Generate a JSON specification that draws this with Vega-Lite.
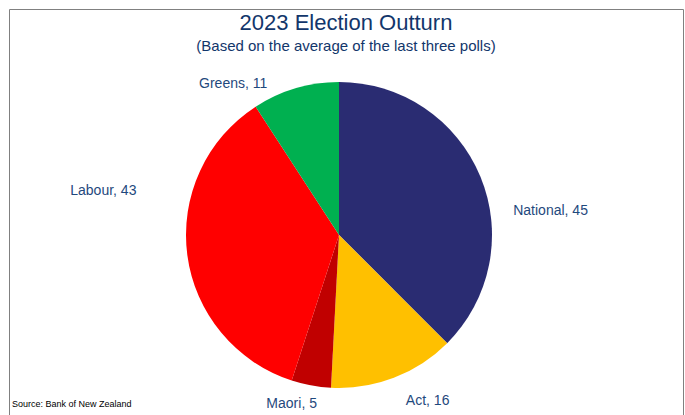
{
  "$schema": "https://vega.github.io/schema/vega-lite/v6.json",
  "width": 685,
  "height": 415,
  "autosize": {"type": "fit", "contains": "padding"},
  "padding": {"left": 9, "top": 9, "right": 2, "bottom": -2},
  "background": "white",
  "view": {"stroke": "#808080", "strokeWidth": 1, "fill": "white"},
  "config": {"font": "Liberation Sans"},
  "title": {
    "text": "2023 Election Outturn",
    "subtitle": "(Based on the average of the last three polls)",
    "anchor": "middle",
    "frame": "group",
    "offset": -46,
    "fontSize": 22,
    "fontWeight": "normal",
    "color": "#12366B",
    "font": "Liberation Sans",
    "subtitleFont": "Liberation Sans",
    "subtitleFontSize": 15,
    "subtitleColor": "#12366B",
    "subtitlePadding": 4
  },
  "data": {
    "values": [
      {"party": "National", "seats": 45, "idx": 1, "label": "National, 45"},
      {"party": "Act", "seats": 16, "idx": 2, "label": "Act, 16"},
      {"party": "Maori", "seats": 5, "idx": 3, "label": "Maori, 5"},
      {"party": "Labour", "seats": 43, "idx": 4, "label": "Labour, 43"},
      {"party": "Greens", "seats": 11, "idx": 5, "label": "Greens, 11"}
    ]
  },
  "layer": [
    {
      "mark": {"type": "arc", "outerRadius": 153, "x": {"expr": "width/2 - 7"}, "y": {"expr": "height/2 + 22"}},
      "encoding": {
        "theta": {"field": "seats", "type": "quantitative", "stack": true},
        "order": {"field": "idx", "type": "quantitative"},
        "color": {
          "field": "party",
          "type": "nominal",
          "scale": {
            "domain": ["National", "Act", "Maori", "Labour", "Greens"],
            "range": ["#2A2C72", "#FFC000", "#C00000", "#FF0000", "#00B050"]
          },
          "legend": null
        }
      }
    },
    {
      "mark": {"type": "text", "clip": true, "radius": 168, "align": "left", "baseline": "middle", "fontSize": 14, "color": "#1F497D", "dx": 19, "dy": 40, "x": {"expr": "width/2 - 7"}, "y": {"expr": "height/2 + 22"}},
      "encoding": {
        "theta": {"field": "seats", "type": "quantitative", "stack": true},
        "order": {"field": "idx", "type": "quantitative"},
        "text": {"condition": {"test": "datum.party === 'National'", "field": "label"}, "value": ""}
      }
    },
    {
      "mark": {"type": "text", "clip": true, "radius": 172, "align": "center", "baseline": "middle", "fontSize": 14, "color": "#1F497D", "dx": 27, "dy": 5, "x": {"expr": "width/2 - 7"}, "y": {"expr": "height/2 + 22"}},
      "encoding": {
        "theta": {"field": "seats", "type": "quantitative", "stack": true},
        "order": {"field": "idx", "type": "quantitative"},
        "text": {"condition": {"test": "datum.party === 'Act'", "field": "label"}, "value": ""}
      }
    },
    {
      "mark": {"type": "text", "clip": true, "radius": 172, "align": "center", "baseline": "middle", "fontSize": 14, "color": "#1F497D", "dx": -16, "dy": 0, "x": {"expr": "width/2 - 7"}, "y": {"expr": "height/2 + 22"}},
      "encoding": {
        "theta": {"field": "seats", "type": "quantitative", "stack": true},
        "order": {"field": "idx", "type": "quantitative"},
        "text": {"condition": {"test": "datum.party === 'Maori'", "field": "label"}, "value": ""}
      }
    },
    {
      "mark": {"type": "text", "clip": true, "radius": 168, "align": "right", "baseline": "middle", "fontSize": 14, "color": "#1F497D", "dx": -36, "dy": -66, "x": {"expr": "width/2 - 7"}, "y": {"expr": "height/2 + 22"}},
      "encoding": {
        "theta": {"field": "seats", "type": "quantitative", "stack": true},
        "order": {"field": "idx", "type": "quantitative"},
        "text": {"condition": {"test": "datum.party === 'Labour'", "field": "label"}, "value": ""}
      }
    },
    {
      "mark": {"type": "text", "clip": true, "radius": 168, "align": "right", "baseline": "middle", "fontSize": 14, "color": "#1F497D", "dx": -24, "dy": 10, "x": {"expr": "width/2 - 7"}, "y": {"expr": "height/2 + 22"}},
      "encoding": {
        "theta": {"field": "seats", "type": "quantitative", "stack": true},
        "order": {"field": "idx", "type": "quantitative"},
        "text": {"condition": {"test": "datum.party === 'Greens'", "field": "label"}, "value": ""}
      }
    },
    {
      "data": {"values": [{"note": "Source: Bank of New Zealand"}]},
      "mark": {"type": "text", "align": "left", "baseline": "alphabetic", "fontSize": 9, "color": "#000000", "x": 3, "y": {"expr": "height - 10"}},
      "encoding": {"text": {"field": "note"}}
    }
  ]
}
